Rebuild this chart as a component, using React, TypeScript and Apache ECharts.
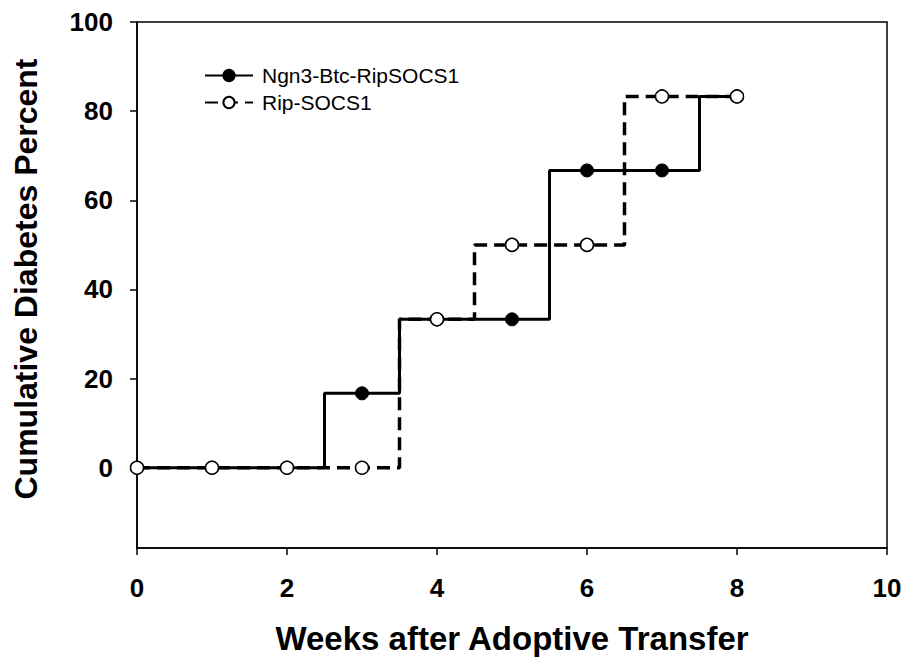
import React, { useEffect, useRef } from "react";
import * as echarts from "echarts";

const weeks = [0, 1, 2, 3, 4, 5, 6, 7, 8];
const ngn3Values = [0, 0, 0, 16.7, 33.3, 33.3, 66.7, 66.7, 83.3];
const ripValues = [0, 0, 0, 0, 33.3, 50, 50, 83.3, 83.3];
const xTicks = [0, 2, 4, 6, 8, 10];
const yTicks = [0, 20, 40, 60, 80, 100];
const seriesNames = ["Ngn3-Btc-RipSOCS1", "Rip-SOCS1"];

const FONT = "'Liberation Sans', Arial, Helvetica, sans-serif";

export default function App() {
  const ref = useRef<HTMLDivElement>(null);
  useEffect(() => {
    if (!ref.current) return;
    const chart = echarts.init(ref.current, null, { renderer: "svg" });
    chart.setOption({
      animation: false,
      backgroundColor: "#ffffff",
      textStyle: { fontFamily: FONT },
      grid: {
        left: 137,
        right: 21,
        top: 22,
        bottom: 115,
        show: true,
        borderColor: "#000",
        borderWidth: 1.5,
        containLabel: false,
      },
      legend: {
        orient: "vertical",
        left: 199,
        top: 60,
        itemWidth: 48,
        itemHeight: 14,
        itemGap: 6,
        textStyle: { fontFamily: FONT, fontSize: 21, color: "#000", padding: [0, 0, 0, 4] },
        data: seriesNames,
      },
      xAxis: {
        type: "value",
        min: 0,
        max: 10,
        interval: 2,
        name: "Weeks after Adoptive Transfer",
        nameLocation: "middle",
        nameGap: 74,
        nameTextStyle: { fontFamily: FONT, fontSize: 33, fontWeight: "bold", color: "#000" },
        axisLine: { show: true, onZero: false, lineStyle: { color: "#000", width: 1.5 } },
        axisTick: { show: true, length: 7, lineStyle: { color: "#000", width: 1.5 }, customValues: xTicks },
        axisLabel: { margin: 27, fontFamily: FONT, fontSize: 26, fontWeight: "bold", color: "#000", customValues: xTicks },
        splitLine: { show: false },
      },
      yAxis: {
        type: "value",
        min: -18,
        max: 100,
        name: "Cumulative Diabetes Percent",
        nameLocation: "middle",
        nameGap: 95,
        nameTextStyle: {
          fontFamily: FONT,
          fontSize: 32,
          fontWeight: "bold",
          color: "#000",
          padding: [0, 0, 0, 12],
        },
        axisLine: { show: true, onZero: false, lineStyle: { color: "#000", width: 1.5 } },
        axisTick: { show: true, length: 7, lineStyle: { color: "#000", width: 1.5 }, customValues: yTicks },
        axisLabel: { margin: 24, fontFamily: FONT, fontSize: 26, fontWeight: "bold", color: "#000", customValues: yTicks },
        splitLine: { show: false },
      },
      series: [
        {
          name: seriesNames[0],
          type: "line",
          step: "middle",
          data: weeks.map((w, i) => [w, ngn3Values[i]]),
          symbol: "circle",
          symbolSize: 13,
          lineStyle: { color: "#000", width: 3, type: "solid" },
          itemStyle: { color: "#000", borderColor: "#000", borderWidth: 1 },
          z: 2,
        },
        {
          name: seriesNames[1],
          type: "line",
          step: "middle",
          data: weeks.map((w, i) => [w, ripValues[i]]),
          symbol: "circle",
          symbolSize: 13,
          lineStyle: { color: "#000", width: 3.5, type: [13, 7] },
          itemStyle: { color: "#fff", borderColor: "#000", borderWidth: 1.5 },
          z: 3,
        },
      ],
    });
    return () => chart.dispose();
  }, []);
  return (
    <div
      ref={ref}
      style={{ position: "fixed", left: 0, top: 0, width: 908, height: 663, background: "#fff" }}
    />
  );
}
